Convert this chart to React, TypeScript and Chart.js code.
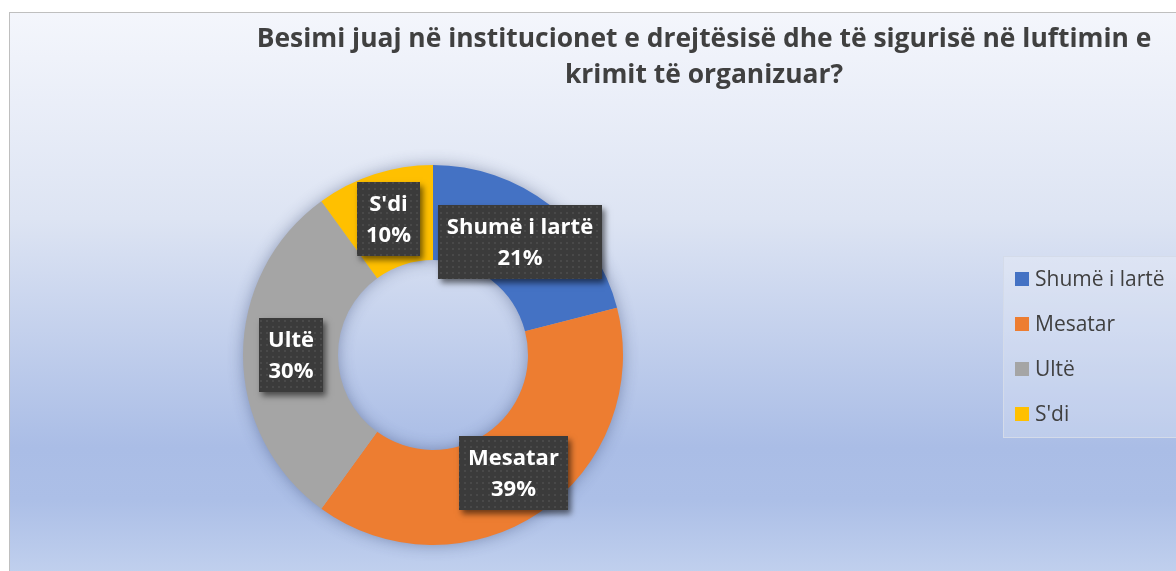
import { useEffect, useRef } from 'react';
import { Chart, registerables } from 'chart.js';
Chart.register(...registerables);

const CATEGORIES = ['Shumë i lartë', 'Mesatar', 'Ultë', "S'di"];
const VALUES = [21, 39, 30, 10];
const COLORS = ['#4472C4', '#ED7D31', '#A5A5A5', '#FFC000'];
const TITLE_LINES = [
  'Besimi juaj në institucionet e drejtësisë dhe të sigurisë në luftimin e',
  'krimit të organizuar?',
];

const W = 1176;
const H = 571;
const FONT = '"Open Sans", "Noto Sans", sans-serif';

function makePattern(ctx: CanvasRenderingContext2D) {
  const c = document.createElement('canvas');
  c.width = 6;
  c.height = 6;
  const p = c.getContext('2d')!;
  p.fillStyle = '#3b3b3b';
  p.fillRect(0, 0, 6, 6);
  p.fillStyle = '#494949';
  p.fillRect(2, 2, 2, 2);
  return ctx.createPattern(c, 'repeat');
}

export default function App() {
  const ref = useRef<HTMLCanvasElement>(null);
  useEffect(() => {
    document.body.style.margin = '0';
    const canvas = ref.current!;

    const bgPlugin = {
      id: 'bg',
      beforeDraw(chart: any) {
        const ctx: CanvasRenderingContext2D = chart.ctx;
        ctx.save();
        ctx.fillStyle = '#ffffff';
        ctx.fillRect(0, 0, W, H);
        const g = ctx.createLinearGradient(0, 13, 0, 600);
        g.addColorStop(0, '#f4f6fc');
        g.addColorStop(0.35, '#dde4f3');
        g.addColorStop(0.74, '#aabde6');
        g.addColorStop(0.83, '#acbfe7');
        g.addColorStop(1, '#c8d6f0');
        ctx.fillStyle = g;
        ctx.fillRect(10, 13, W, H);
        ctx.strokeStyle = '#bfbfbf';
        ctx.lineWidth = 1;
        ctx.strokeRect(9.5, 12.5, W + 20, H + 20);
        // title
        ctx.fillStyle = '#404040';
        ctx.textAlign = 'center';
        ctx.textBaseline = 'alphabetic';
        ctx.font = `bold 26px ${FONT}`;
        const w0 = ctx.measureText(TITLE_LINES[0]).width;
        const size = (26 * 895) / w0;
        ctx.font = `bold ${size}px ${FONT}`;
        TITLE_LINES.forEach((t, i) => {
          ctx.fillText(t, 704, 47 + i * 36);
        });
        ctx.restore();
      },
    };

    const ringShadow = {
      id: 'ringShadow',
      beforeDatasetsDraw(chart: any) {
        const ctx: CanvasRenderingContext2D = chart.ctx;
        const el = chart.getDatasetMeta(0).data[0];
        const { x, y, outerRadius, innerRadius } = el.getProps(
          ['x', 'y', 'outerRadius', 'innerRadius'],
          true
        );
        ctx.save();
        ctx.shadowColor = 'rgba(40,55,100,0.45)';
        ctx.shadowBlur = 16;
        ctx.fillStyle = '#9aaace';
        ctx.beginPath();
        ctx.arc(x, y, outerRadius - 1, 0, Math.PI * 2);
        ctx.arc(x, y, innerRadius + 1, 0, Math.PI * 2, true);
        ctx.fill();
        ctx.restore();
      },
    };

    const labelsPlugin = {
      id: 'boxLabels',
      afterDatasetsDraw(chart: any) {
        const ctx: CanvasRenderingContext2D = chart.ctx;
        const meta = chart.getDatasetMeta(0);
        const data: number[] = chart.data.datasets[0].data;
        const total = data.reduce((a, b) => a + b, 0);
        const pattern = makePattern(ctx);
        ctx.save();
        ctx.font = `bold 22px ${FONT}`;
        meta.data.forEach((el: any, i: number) => {
          const pos = el.tooltipPosition(false);
          const lines = [
            String(chart.data.labels[i]),
            Math.round((data[i] / total) * 100) + '%',
          ];
          const tw = Math.max(...lines.map((l) => ctx.measureText(l).width));
          const bw = Math.round(tw + 18);
          const lh = 31;
          const bh = 74;
          const bx = Math.round(pos.x - bw / 2);
          const by = Math.round(pos.y - bh / 2);
          ctx.save();
          ctx.shadowColor = 'rgba(0,0,0,0.55)';
          ctx.shadowBlur = 6;
          ctx.shadowOffsetX = 3;
          ctx.shadowOffsetY = 4;
          ctx.fillStyle = '#3b3b3b';
          ctx.fillRect(bx, by, bw, bh);
          ctx.restore();
          ctx.fillStyle = pattern as any;
          ctx.fillRect(bx, by, bw, bh);
          ctx.fillStyle = '#ffffff';
          ctx.textAlign = 'center';
          ctx.textBaseline = 'middle';
          lines.forEach((l, k) => {
            ctx.fillText(l, bx + bw / 2, by + bh / 2 + (k - 0.5) * lh + 1);
          });
        });
        ctx.restore();
      },
    };

    const legendPlugin = {
      id: 'customLegend',
      afterDraw(chart: any) {
        const ctx: CanvasRenderingContext2D = chart.ctx;
        ctx.save();
        ctx.fillStyle = 'rgba(255,255,255,0.22)';
        ctx.fillRect(1003, 256, 200, 181);
        ctx.strokeStyle = '#d4dbe9';
        ctx.lineWidth = 1;
        ctx.strokeRect(1003.5, 256.5, 200, 181);
        ctx.font = `21px ${FONT}`;
        ctx.textAlign = 'left';
        ctx.textBaseline = 'alphabetic';
        const labels: string[] = chart.data.labels;
        const colors: string[] = chart.data.datasets[0].backgroundColor;
        labels.forEach((l, i) => {
          const base = 285.5 + i * 45;
          ctx.fillStyle = colors[i];
          ctx.fillRect(1015, Math.round(base - 14), 14, 14);
          ctx.fillStyle = '#404040';
          ctx.fillText(l, 1035, base);
        });
        ctx.restore();
      },
    };

    const chart = new Chart(canvas, {
      type: 'doughnut',
      data: {
        labels: CATEGORIES,
        datasets: [
          {
            data: VALUES,
            backgroundColor: COLORS,
            borderWidth: 0,
            hoverOffset: 0,
          },
        ],
      },
      options: {
        responsive: false,
        animation: false,
        cutout: '50%',
        events: [],
        layout: { padding: { left: 243, right: 553, top: 165, bottom: 26 } },
        plugins: {
          legend: { display: false },
          tooltip: { enabled: false },
          title: { display: false },
        },
      },
      plugins: [bgPlugin, ringShadow, labelsPlugin, legendPlugin],
    } as any);
    return () => chart.destroy();
  }, []);

  return (
    <div style={{ position: 'absolute', left: 0, top: 0, width: W, height: H }}>
      <canvas ref={ref} width={W} height={H} style={{ display: 'block' }} />
    </div>
  );
}
